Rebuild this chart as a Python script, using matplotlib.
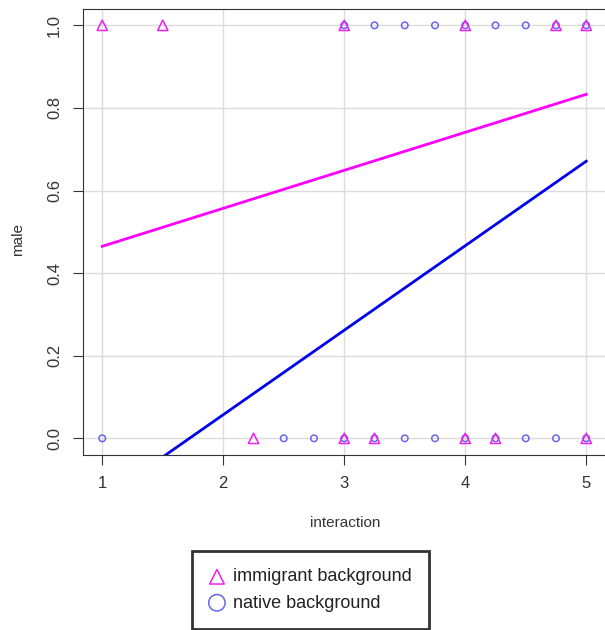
import numpy as np
import matplotlib.pyplot as plt

plt.rcParams['font.family'] = ['Liberation Sans', 'DejaVu Sans']

# data points (interaction, male)
imm_x = [1, 1.5, 3, 4, 4.75, 5, 2.25, 3, 3.25, 4, 4.25, 5]
imm_y = [1, 1, 1, 1, 1, 1, 0, 0, 0, 0, 0, 0]
nat_x = [3, 3.25, 3.5, 3.75, 4, 4.25, 4.5, 4.75, 5,
         1, 2.5, 2.75, 3, 3.25, 3.5, 3.75, 4, 4.25, 4.5, 4.75, 5]
nat_y = [1, 1, 1, 1, 1, 1, 1, 1, 1,
         0, 0, 0, 0, 0, 0, 0, 0, 0, 0, 0, 0]

# fitted lines (intercept, slope)
imm_fit = (0.373, 0.092)
nat_fit = (-0.352, 0.2046)

fig = plt.figure(figsize=(6.05, 6.30), dpi=100)
ax = fig.add_axes([0.137, 0.278, 0.868, 0.708])

ax.grid(True, color='#dcdcdc', linewidth=1)
ax.set_axisbelow(True)

ax.scatter(nat_x, nat_y, marker='o', s=22, facecolors='none',
           edgecolors='#6666ee', linewidths=1.1, zorder=3)
ax.scatter(imm_x, imm_y, marker='^', s=55, facecolors='none',
           edgecolors='#ee22ee', linewidths=1.1, zorder=3)

xs = np.array([1, 5])
ax.plot(xs, imm_fit[0] + imm_fit[1] * xs, color='#ff00ff', linewidth=2, zorder=4)
ax.plot(xs, nat_fit[0] + nat_fit[1] * xs, color='#0000ee', linewidth=2, zorder=4)

ax.set_xlim(0.84, 5.18)
ax.set_ylim(-0.04, 1.04)
ax.set_xticks([1, 2, 3, 4, 5])
ax.set_yticks([0, 0.2, 0.4, 0.6, 0.8, 1.0])
ax.set_yticklabels(['0.0', '0.2', '0.4', '0.6', '0.8', '1.0'], rotation=90, va='center')
ax.tick_params(labelsize=12, length=7, color='#333333', labelcolor='#333333', pad=8)
for s in ax.spines.values():
    s.set_color('#333333')

fig.text(0.57, 0.17, 'interaction', ha='center', va='center', fontsize=11, color='#333333')
fig.text(0.03, 0.62, 'male', ha='center', va='center', rotation=90, fontsize=11, color='#333333')

h1 = ax.scatter([], [], marker='^', s=110, facecolors='none', edgecolors='#ee22ee', linewidths=1.1)
h2 = ax.scatter([], [], marker='o', s=140, facecolors='none', edgecolors='#6666ee', linewidths=1.1)
leg = fig.legend([h1, h2], ['immigrant background', 'native background'],
                 loc='center', bbox_to_anchor=(0.513, 0.0635), fontsize=13,
                 frameon=True, fancybox=False, handletextpad=0.45, borderpad=0.95,
                 labelspacing=0.5, handlelength=0.9, borderaxespad=0)
leg.get_frame().set_edgecolor('black')
leg.get_frame().set_linewidth(2)
for t in leg.get_texts():
    t.set_color('#222222')

plt.savefig('out.png', dpi=100)
